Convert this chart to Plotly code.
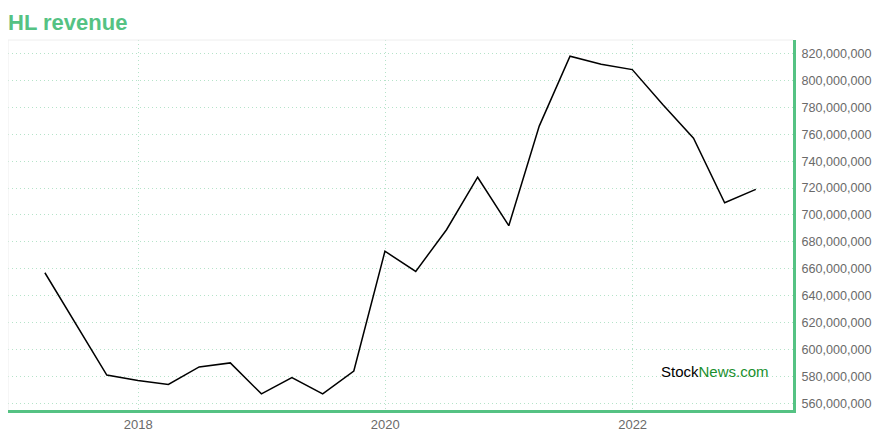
import plotly.graph_objects as go

dates = ["2017-03-31", "2017-06-30", "2017-09-30", "2017-12-31",
         "2018-03-31", "2018-06-30", "2018-09-30", "2018-12-31",
         "2019-03-31", "2019-06-30", "2019-09-30", "2019-12-31",
         "2020-03-31", "2020-06-30", "2020-09-30", "2020-12-31",
         "2021-03-31", "2021-06-30", "2021-09-30", "2021-12-31",
         "2022-03-31", "2022-06-30", "2022-09-30", "2022-12-31"]
revenue = [657e6, 619e6, 581e6, 577e6,
           574e6, 587e6, 590e6, 567e6,
           579e6, 567e6, 584e6, 673e6,
           658e6, 689e6, 728e6, 692e6,
           766e6, 818e6, 812e6, 808e6,
           782e6, 757e6, 709e6, 719e6]
y_ticks = [560e6 + 20e6 * i for i in range(14)]
x_ticks = ["2018-01-01", "2020-01-01", "2022-01-01"]
x_tick_labels = ["2018", "2020", "2022"]

GREEN = "#55c283"
GRID = "#b5e3c9"

fig = go.Figure()
fig.add_trace(go.Scatter(x=dates, y=revenue, mode="lines",
                         line=dict(color="#000000", width=1.5),
                         hoverinfo="skip"))

fig.update_layout(
    width=872, height=432,
    margin=dict(l=0, r=87, t=32, b=30, autoexpand=False),
    paper_bgcolor="white", plot_bgcolor="white",
    showlegend=False,
    font=dict(family="Liberation Sans, Arial, sans-serif", color="#666666", size=12),
    title=dict(text="<b>HL revenue</b>", x=0, xanchor="left", y=0.967, yanchor="middle",
               font=dict(size=22, color=GREEN, family="Liberation Sans, Arial, sans-serif")),
)
fig.update_xaxes(
    type="date", range=["2016-12-12", "2023-04-20"],
    tickvals=x_ticks, ticktext=x_tick_labels,
    showgrid=True, gridcolor=GRID, griddash="1px,3px", gridwidth=1,
    showline=True, linecolor=GREEN, linewidth=3,
    ticks="", tickfont=dict(size=13, color="#6a6a6a"),
    zeroline=False, automargin=False,
)
fig.update_yaxes(
    side="right", range=[555e6, 830e6],
    tickvals=y_ticks, tickformat=",d",
    showgrid=True, gridcolor=GRID, griddash="1px,3px", gridwidth=1,
    showline=True, linecolor=GREEN, linewidth=3,
    ticks="", ticklen=0, ticklabelstandoff=3,
    tickfont=dict(size=12.6, color="#6a6a6a"),
    zeroline=False, automargin=False,
)
# faint top and left frame
fig.add_shape(type="line", xref="paper", yref="paper", x0=0, x1=1, y0=1, y1=1,
              line=dict(color="#eeeeee", width=1))
fig.add_shape(type="line", xref="paper", yref="paper", x0=0, x1=0, y0=0, y1=1,
              line=dict(color="#eeeeee", width=1))
fig.add_annotation(xref="paper", yref="paper", x=0.972, y=0.105, xanchor="right", yanchor="middle",
                   text="<span style='color:#000000'>Stock</span><span style='color:#1a8f2e'>News.com</span>",
                   showarrow=False, font=dict(size=15, family="Liberation Sans, Arial, sans-serif"))

fig.write_html("out.html")
